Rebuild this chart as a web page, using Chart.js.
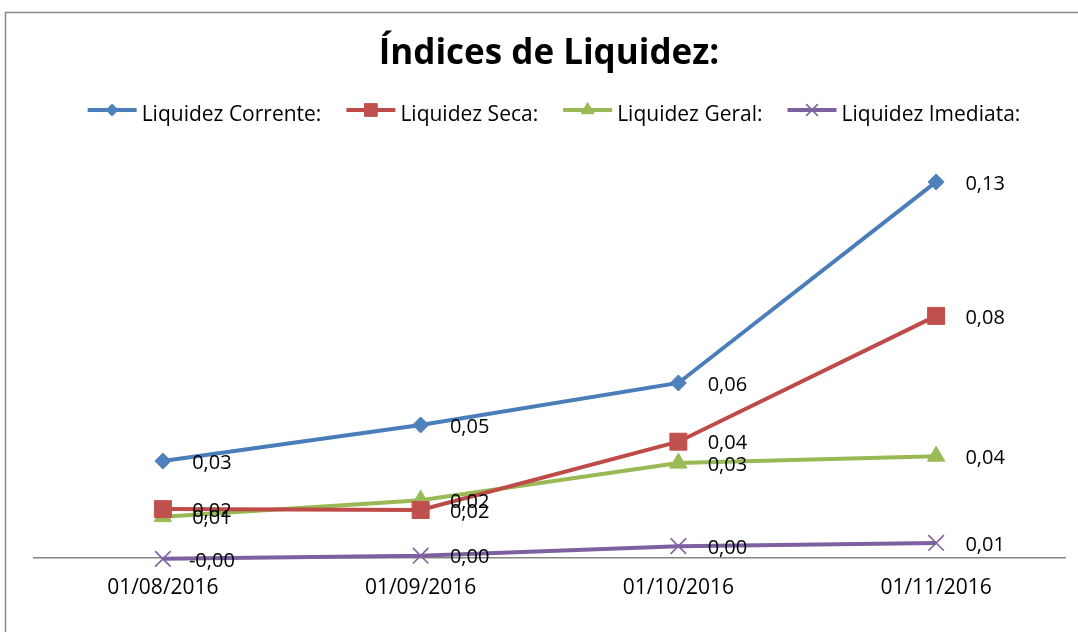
<!DOCTYPE html>
<html><head><meta charset="utf-8">
<script src="https://cdn.jsdelivr.net/npm/chart.js@4/dist/chart.umd.min.js"></script>
<style>html,body{margin:0;padding:0;background:#fff}#wrap{width:1078px;height:632px;position:relative}</style>
</head><body><div id="wrap"><canvas id="c" width="1078" height="632"></canvas></div>
<script>
const chartTitle = 'Índices de Liquidez:';
const categories = ['01/08/2016', '01/09/2016', '01/10/2016', '01/11/2016'];
const seriesNames = ['Liquidez Corrente:', 'Liquidez Seca:', 'Liquidez Geral:', 'Liquidez Imediata:'];
const corrente = [0.0335, 0.046, 0.0605, 0.130];
const seca = [0.0169, 0.0166, 0.0402, 0.0837];
const geral = [0.0143, 0.0200, 0.0328, 0.0352];
const imediata = [-0.0003, 0.0008, 0.0041, 0.0052];

const lineColors = ['#4A7EBB', '#BE4B48', '#98B954', '#7D60A0'];
const markColors = ['#4F81BD', '#C0504D', '#9BBB59', '#8064A2'];
const markStyles = ['rectRot', 'rect', 'triangle', 'crossRot'];
const markRadius = [8, 12, 10, 11];
const FONT = '"Open Sans", "Noto Sans", sans-serif';

function fmt(v) { return v.toFixed(2).replace('.', ','); }

const allSeries = [corrente, seca, geral, imediata];
const datasets = allSeries.map((d, i) => ({
  label: seriesNames[i],
  data: d,
  borderColor: lineColors[i],
  backgroundColor: markColors[i],
  borderWidth: 4,
  pointStyle: markStyles[i],
  pointRadius: markRadius[i],
  pointHoverRadius: markRadius[i],
  pointBackgroundColor: markColors[i],
  pointBorderColor: markColors[i],
  pointBorderWidth: i === 3 ? 1.6 : 1,
  tension: 0,
  clip: false
}));

const framePlugin = {
  id: 'frame',
  beforeDraw(chart) {
    const ctx = chart.ctx;
    ctx.save();
    ctx.fillStyle = '#fff';
    ctx.fillRect(0, 0, chart.width, chart.height);
    ctx.strokeStyle = '#8a8a8a';
    ctx.lineWidth = 1.5;
    ctx.strokeRect(5.5, 12.5, 1200, 1000);
    ctx.restore();
  }
};

const headerPlugin = {
  id: 'header',
  afterDraw(chart) {
    const ctx = chart.ctx;
    ctx.save();
    ctx.fillStyle = '#000';
    ctx.font = 'bold 35px ' + FONT;
    ctx.textAlign = 'center';
    ctx.textBaseline = 'alphabetic';
    ctx.fillText(chartTitle, 549, 64);

    // legend
    ctx.font = '21px ' + FONT;
    const lineLen = 49, gap = 5, spacing = 25;
    const widths = chart.data.datasets.map(ds => ctx.measureText(ds.label).width);
    let total = 0;
    widths.forEach((w, i) => { total += lineLen + gap + w + (i < widths.length - 1 ? spacing : 0); });
    let x = 554 - total / 2;
    const yc = 110;
    chart.data.datasets.forEach((ds, i) => {
      ctx.strokeStyle = ds.borderColor;
      ctx.lineWidth = 4;
      ctx.beginPath();
      ctx.moveTo(x, yc);
      ctx.lineTo(x + lineLen, yc);
      ctx.stroke();
      ctx.fillStyle = ds.pointBackgroundColor;
      ctx.strokeStyle = ds.pointBorderColor;
      ctx.lineWidth = ds.pointBorderWidth;
      Chart.helpers.drawPoint(ctx, { pointStyle: ds.pointStyle, radius: ds.pointRadius * 0.75, rotation: 0, borderWidth: ds.pointBorderWidth }, x + lineLen / 2, yc);
      ctx.fillStyle = '#000';
      ctx.textAlign = 'left';
      ctx.textBaseline = 'alphabetic';
      ctx.fillText(ds.label, x + lineLen + gap, 121);
      x += lineLen + gap + widths[i] + spacing;
    });
    ctx.restore();
  }
};

const labelPlugin = {
  id: 'pointLabels',
  afterDatasetsDraw(chart) {
    const ctx = chart.ctx;
    ctx.save();
    ctx.font = '20px ' + FONT;
    ctx.fillStyle = '#000';
    ctx.textAlign = 'center';
    ctx.textBaseline = 'middle';
    chart.data.datasets.forEach((ds, i) => {
      const meta = chart.getDatasetMeta(i);
      meta.data.forEach((pt, j) => {
        ctx.fillText(fmt(ds.data[j]), pt.x + 49, pt.y + 2);
      });
    });
    ctx.restore();
  }
};

new Chart(document.getElementById('c'), {
  type: 'line',
  data: { labels: categories, datasets },
  options: {
    responsive: false,
    animation: false,
    devicePixelRatio: 1,
    layout: { padding: { left: 34, right: 13, top: 153, bottom: 0 } },
    plugins: { legend: { display: false }, title: { display: false }, tooltip: { enabled: false } },
    scales: {
      x: {
        offset: true,
        grid: { display: false, drawTicks: false },
        border: { display: true, color: '#868686', width: 1.5 },
        ticks: { color: '#000', font: { family: FONT, size: 21 }, padding: 17, maxRotation: 0 },
        afterFit(scale) { scale.height = 74; }
      },
      y: {
        display: false,
        min: 0,
        max: 0.14
      }
    }
  },
  plugins: [framePlugin, headerPlugin, labelPlugin]
});
</script></body></html>
